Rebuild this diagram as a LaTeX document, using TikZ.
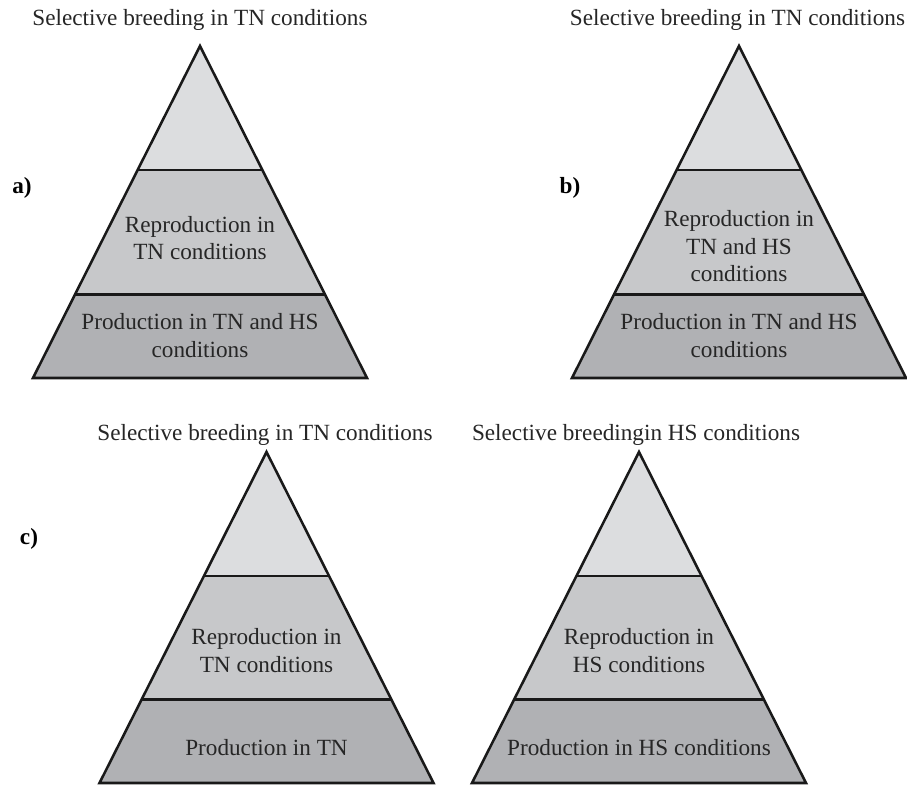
\documentclass[tikz,border=0pt]{standalone}
\usepackage{fontspec}
\setmainfont{Liberation Serif}
\usetikzlibrary{calc}
\definecolor{topc}{HTML}{DCDDDF}
\definecolor{midc}{HTML}{C7C8CA}
\definecolor{botc}{HTML}{B0B1B4}
\newcommand{\mypyramid}[4]{%
  \coordinate (#1T) at (#2,#3);
  \coordinate (#1L) at ({#2-167},#4);
  \coordinate (#1R) at ({#2+167},#4);
  \coordinate (#1a) at ($(#1T)!0.374!(#1L)$);
  \coordinate (#1b) at ($(#1T)!0.374!(#1R)$);
  \coordinate (#1c) at ($(#1T)!0.748!(#1L)$);
  \coordinate (#1d) at ($(#1T)!0.748!(#1R)$);
  \fill[topc] (#1T) -- (#1a) -- (#1b) -- cycle;
  \fill[midc] (#1a) -- (#1c) -- (#1d) -- (#1b) -- cycle;
  \fill[botc] (#1c) -- (#1L) -- (#1R) -- (#1d) -- cycle;
  \draw[edge] (#1a) -- (#1b) (#1c) -- (#1d);
  \draw[edge] (#1T) -- (#1L) -- (#1R) -- cycle;
}
\begin{document}
\begin{tikzpicture}[x=0.75pt,y=-0.75pt,
  edge/.style={line width=1.9pt,black!90},
  txt/.style={inner sep=0pt,font=\fontsize{17.4}{20.8}\selectfont,text=black!85},
  lbl/.style={inner sep=0pt,font=\fontsize{17.4}{20.8}\selectfont\bfseries,anchor=base},
  blk/.style={txt,align=center,anchor=center}]
\useasboundingbox (0,0) rectangle (907,786);
\fill[white] (0,0) rectangle (907,786);

% a)
\mypyramid{pa}{200}{46}{378}
\node[txt,anchor=base] (ta) at (200,25) {Selective breeding in TN conditions};
\node[lbl] (la) at (22,193) {a)};
\node[blk] (ra) at (200,238) {Reproduction in\\TN conditions};
\node[blk] (qa) at (200,335.5) {Production in TN and HS\\conditions};

% b)
\mypyramid{pb}{739}{46}{378}
\node[txt,anchor=base] (tb) at (737.5,25) {Selective breeding in TN conditions};
\node[lbl] (lb) at (570,193) {b)};
\node[blk] (rb) at (739,246.2) {Reproduction in\\TN and HS\\conditions};
\node[blk] (qb) at (739,335.5) {Production in TN and HS\\conditions};

% c) left
\mypyramid{pc}{266.5}{452}{783}
\node[txt,anchor=base] (tc) at (265,440) {Selective breeding in TN conditions};
\node[lbl] (lc) at (29,544) {c)};
\node[blk] (rc) at (266.5,650.4) {Reproduction in\\TN conditions};
\node[txt,anchor=base] (qc) at (266.5,755) {Production in TN};

% c) right
\mypyramid{pd}{639}{452}{783}
\node[txt,anchor=base] (td) at (636,440) {Selective breedingin HS conditions};
\node[blk] (rd) at (639,650.4) {Reproduction in\\HS conditions};
\node[txt,anchor=base] (qd) at (639,755) {Production in HS conditions};
\end{tikzpicture}
\end{document}
